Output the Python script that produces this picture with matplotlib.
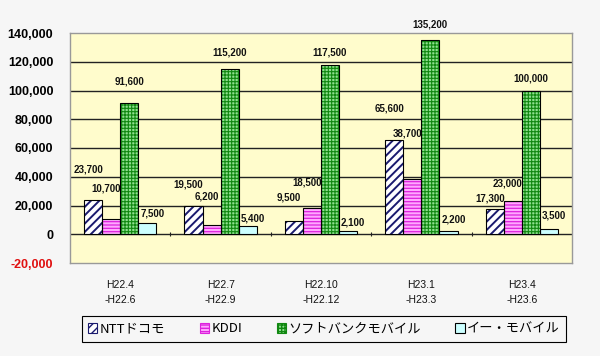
import matplotlib
matplotlib.use("Agg")
import matplotlib.pyplot as plt
import matplotlib.patches as mpatches
import numpy as np

plt.rcParams['font.family'] = ['Liberation Sans', 'Noto Sans CJK JP', 'DejaVu Sans']
plt.rcParams['hatch.linewidth'] = 1.0

categories = ["H22.4\n-H22.6", "H22.7\n-H22.9", "H22.10\n-H22.12", "H23.1\n-H23.3", "H23.4\n-H23.6"]
series_names = ["NTTドコモ", "KDDI", "ソフトバンクモバイル", "イー・モバイル"]
ntt = [23700, 19500, 9500, 65600, 17300]
kddi = [10700, 6200, 18500, 38700, 23000]
softbank = [91600, 115200, 117500, 135200, 100000]
emobile = [7500, 5400, 2100, 2200, 3500]
yticks = [-20000, 0, 20000, 40000, 60000, 80000, 100000, 120000, 140000]

series = [ntt, kddi, softbank, emobile]
# styles: facecolor, hatch color, hatch, hatch linewidth
styles = [("#ffffff", "#1a1a6e", "////", 1.4),
          ("#ffa8ff", "#dd22dd", "-----", 0.9),
          ("#8fe08f", "#118811", "+++++", 0.8),
          ("#ccffff", "#000000", None, 1.0)]
# label offsets in pixels (x per series, y per label)
lab_dx = [-5, -5, 0, 5]
lab_dy = [[31, 22, 23, 31, 11],
          [30, 29, 25, 45, 18],
          [21, 16, 13, 15, 12],
          [10, 8, 9, 12, 14]]

page_bg = "#f6f6f6"
fig = plt.figure(figsize=(6, 3.56), dpi=100, facecolor=page_bg)
ax = fig.add_axes([70/600, 93/356, 502/600, 230/356])
ax.set_facecolor("#fffccc")

x = np.arange(len(categories))
w = 0.18
handles = []
for i, (vals, (fc, hc, hatch, hlw)) in enumerate(zip(series, styles)):
    pos = x + (i - 1.5) * w
    with plt.rc_context({'hatch.linewidth': hlw}):
        bars = ax.bar(pos, vals, w, color=fc, edgecolor=hc, hatch=hatch, linewidth=0, zorder=3)
        for p in bars:
            if hasattr(p, "set_hatch_linewidth"):
                p.set_hatch_linewidth(hlw)
        h = mpatches.Patch(facecolor=fc, edgecolor=hc, hatch=hatch, linewidth=0.8)
        if hasattr(h, "set_hatch_linewidth"):
            h.set_hatch_linewidth(hlw)
    handles.append(h)
    ax.bar(pos, vals, w, fill=False, edgecolor="#000000", linewidth=0.8, zorder=4)
    for j, v in enumerate(vals):
        ax.annotate(f"{v:,}", (pos[j], v), xytext=(lab_dx[i]*0.72, lab_dy[i][j]*0.72),
                    textcoords="offset points", ha="center", va="center",
                    fontsize=7, fontweight="bold", color="#111111", zorder=5)

ax.set_xlim(-0.5, len(categories) - 0.5)
ax.set_ylim(-20000, 140000)
ax.set_yticks(yticks)
ax.set_yticklabels([f"{t:,}" for t in yticks], fontsize=9, fontweight="bold")
for lbl, t in zip(ax.get_yticklabels(), yticks):
    lbl.set_color("#e01010" if t < 0 else "#000000")
ax.tick_params(axis="y", length=0, pad=12)
ax.set_xticks(x)
ax.set_xticklabels(categories, fontsize=7.5, linespacing=1.7, color="#111111")
ax.tick_params(axis="x", length=0, pad=12)

for t in yticks[1:-1]:
    ax.axhline(t, color="#222222", linewidth=1.0, zorder=1)
ax.vlines(np.arange(len(categories) - 1) + 0.5, -1500, 1500, color="#222222", linewidth=0.8, zorder=2)
for s in ax.spines.values():
    s.set_color("#999999")
    s.set_linewidth(1.0)

leg = fig.legend(handles, series_names, loc="center", ncol=4,
                 bbox_to_anchor=(324/600, 27/356),
                 prop={"family": ["Noto Sans CJK JP", "DejaVu Sans"], "size": 9.5},
                 handlelength=0.7, handleheight=0.7, handletextpad=0.2,
                 columnspacing=2.6, borderpad=0.5,
                 fancybox=False, facecolor=page_bg, edgecolor="#000000", framealpha=1)
leg.get_frame().set_linewidth(0.8)

fig.savefig("out.png", dpi=100, facecolor=page_bg)
